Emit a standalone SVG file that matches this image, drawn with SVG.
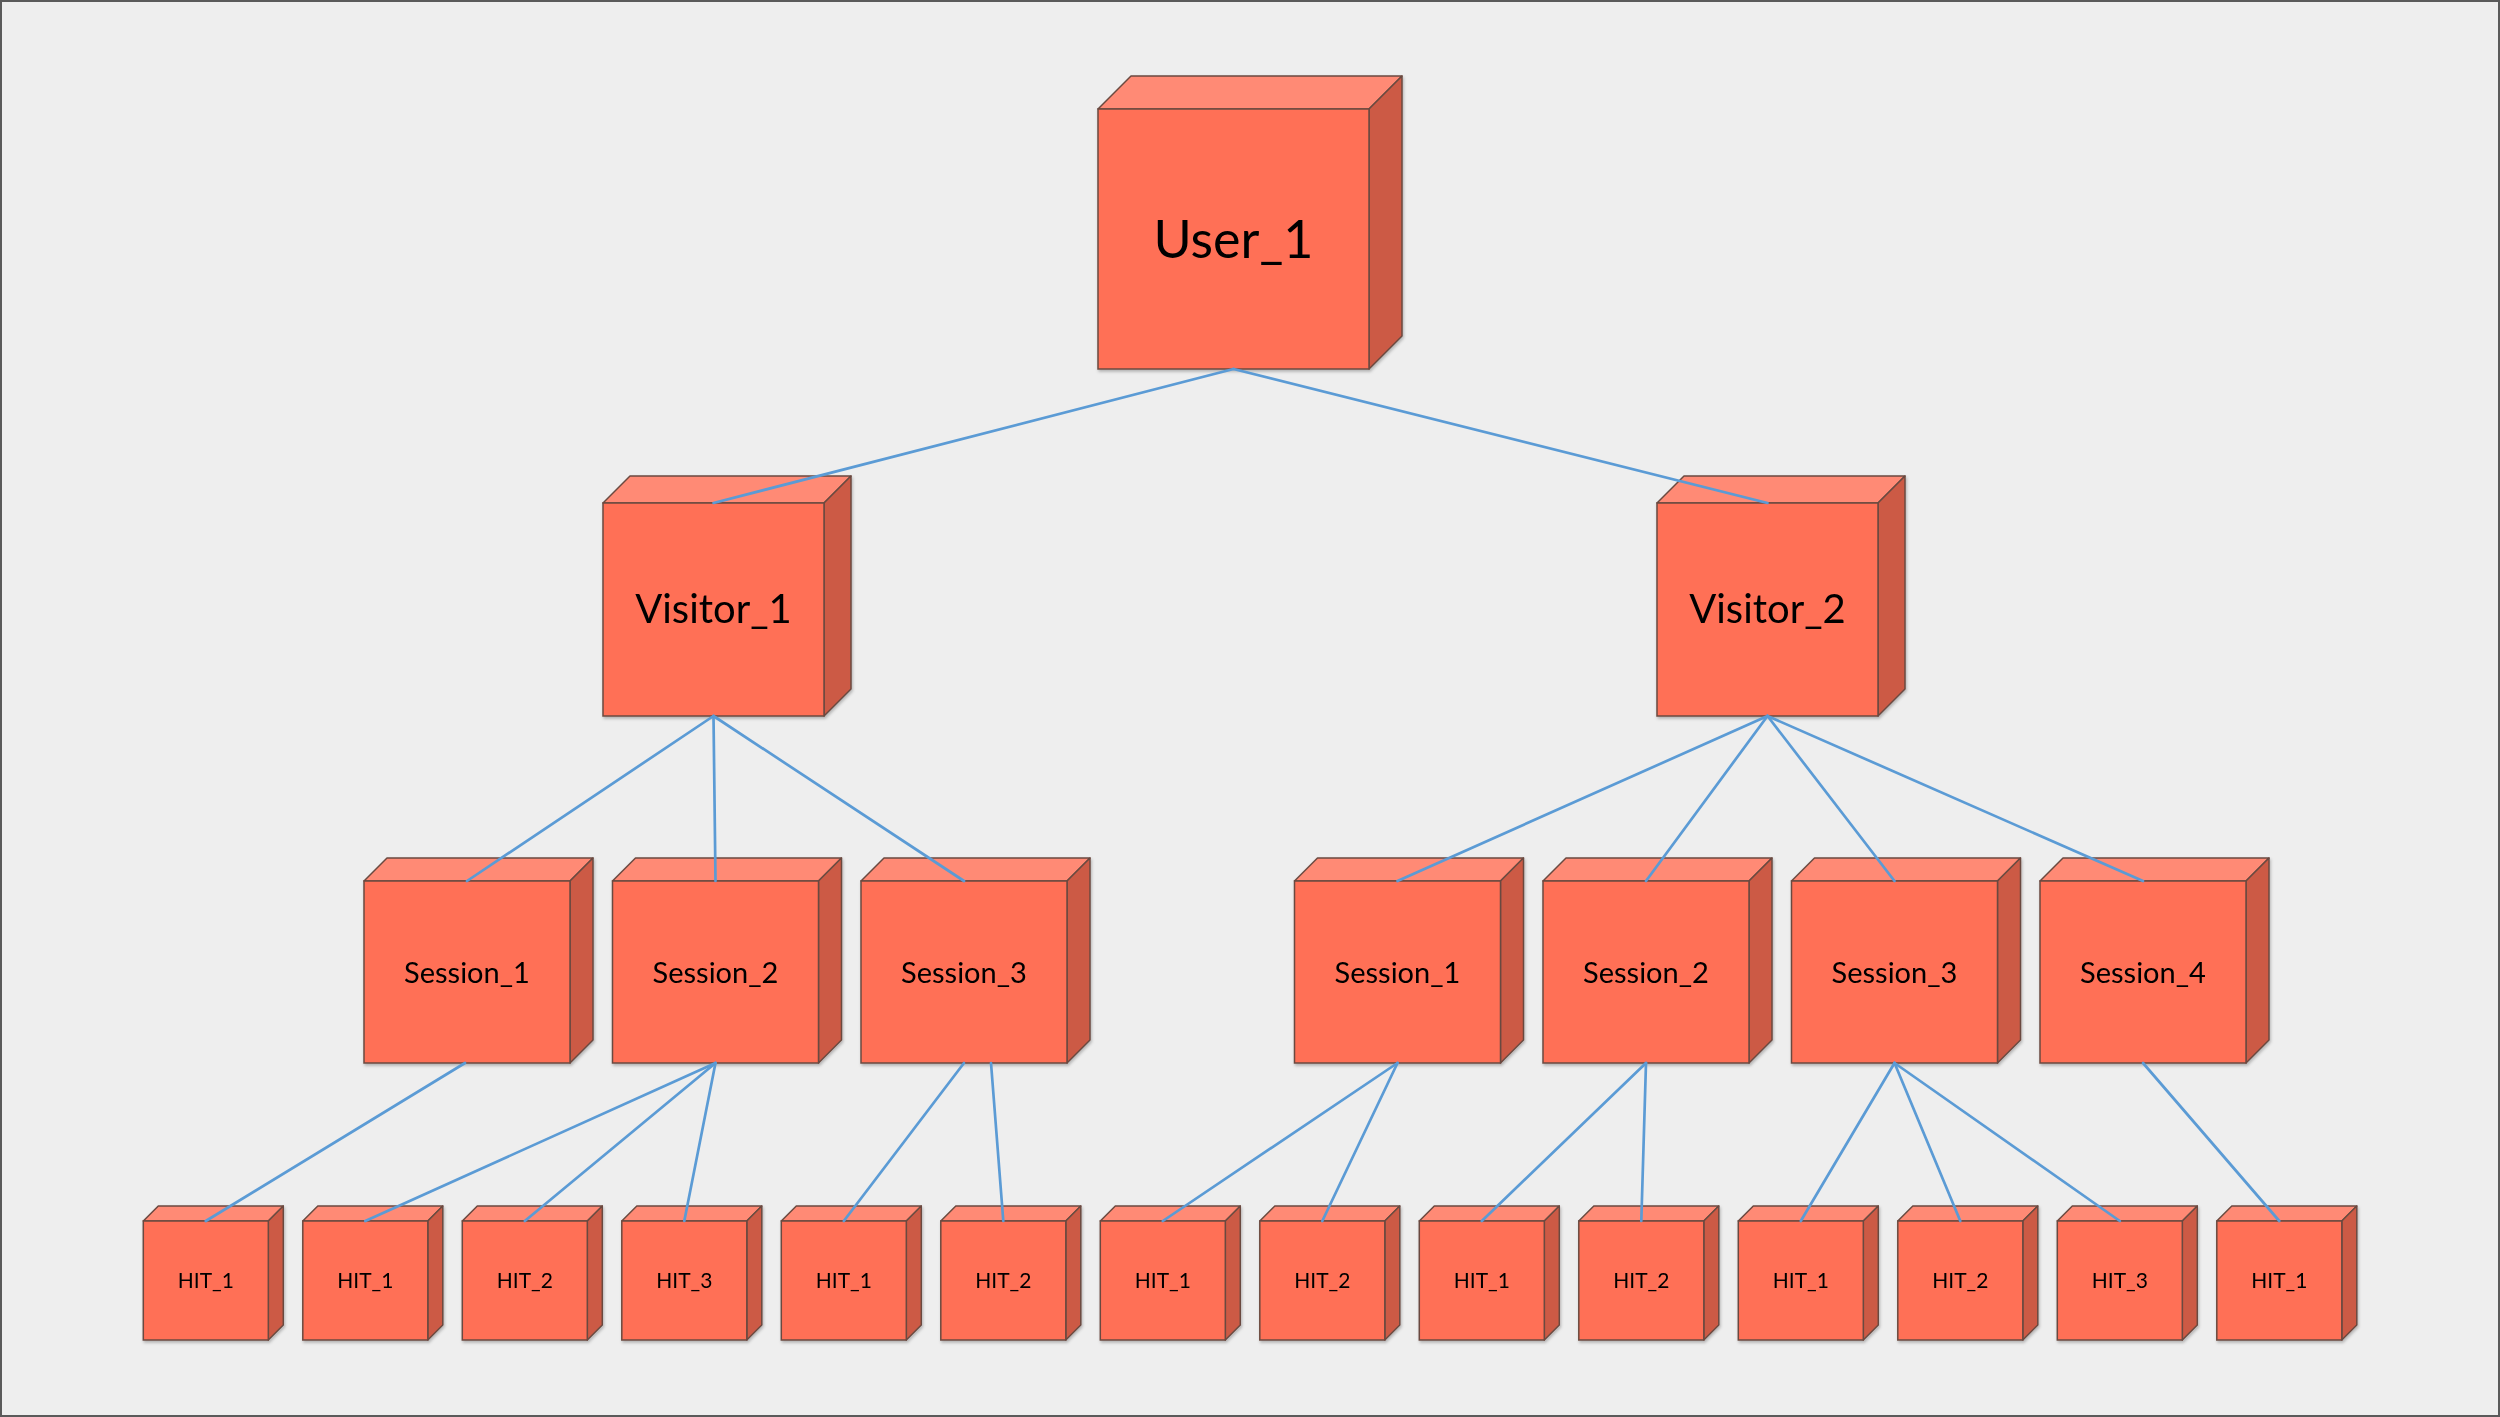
<svg xmlns="http://www.w3.org/2000/svg" width="2500" height="1417" viewBox="0 0 2500 1417">
<defs>
<style>
.front{fill:#FF6F56;stroke:#6B4A40;stroke-width:1.5}
.top{fill:#FF8A74;stroke:#6B4A40;stroke-width:1.5;stroke-linejoin:round}
.side{fill:#CC5A45;stroke:#6B4A40;stroke-width:1.5;stroke-linejoin:round}
.lbl{font-family:Lato,"Liberation Sans",sans-serif;fill:#000;text-anchor:middle}
.conn line{stroke:#5B9BD5;stroke-width:2.7;stroke-linecap:round}
</style>
<filter id="sh" x="-10%" y="-10%" width="120%" height="120%">
<feDropShadow dx="1" dy="2" stdDeviation="1.5" flood-color="#000" flood-opacity="0.25"/>
</filter>
</defs>
<rect x="1" y="1" width="2498" height="1415" fill="#EEEEEE" stroke="#5A5A5A" stroke-width="2"/>

<g id="user_1" filter="url(#sh)">
<polygon class="top" points="1098,109 1131,76 1402,76 1369,109"/>
<polygon class="side" points="1369,109 1402,76 1402,336 1369,369"/>
<rect class="front" x="1098" y="109" width="271" height="260"/>
<text class="lbl" x="1233.5" y="258" font-size="52">User_1</text>
</g>

<g id="visitor_1" filter="url(#sh)">
<polygon class="top" points="603,503 630,476 851,476 824,503"/>
<polygon class="side" points="824,503 851,476 851,689 824,716"/>
<rect class="front" x="603" y="503" width="221" height="213"/>
<text class="lbl" x="713.5" y="623" font-size="40">Visitor_1</text>
</g>

<g id="visitor_2" filter="url(#sh)">
<polygon class="top" points="1657,503 1684,476 1905,476 1878,503"/>
<polygon class="side" points="1878,503 1905,476 1905,689 1878,716"/>
<rect class="front" x="1657" y="503" width="221" height="213"/>
<text class="lbl" x="1767.5" y="623" font-size="40">Visitor_2</text>
</g>

<g id="v1_session_1" filter="url(#sh)">
<polygon class="top" points="364,881 387,858 593,858 570,881"/>
<polygon class="side" points="570,881 593,858 593,1040 570,1063"/>
<rect class="front" x="364" y="881" width="206" height="182"/>
<text class="lbl" x="467" y="983" font-size="29">Session_1</text>
</g>
<g id="v1_session_2" filter="url(#sh)">
<polygon class="top" points="612.5,881 635.5,858 841.5,858 818.5,881"/>
<polygon class="side" points="818.5,881 841.5,858 841.5,1040 818.5,1063"/>
<rect class="front" x="612.5" y="881" width="206" height="182"/>
<text class="lbl" x="715.5" y="983" font-size="29">Session_2</text>
</g>
<g id="v1_session_3" filter="url(#sh)">
<polygon class="top" points="861,881 884,858 1090,858 1067,881"/>
<polygon class="side" points="1067,881 1090,858 1090,1040 1067,1063"/>
<rect class="front" x="861" y="881" width="206" height="182"/>
<text class="lbl" x="964" y="983" font-size="29">Session_3</text>
</g>
<g id="v2_session_1" filter="url(#sh)">
<polygon class="top" points="1294.5,881 1317.5,858 1523.5,858 1500.5,881"/>
<polygon class="side" points="1500.5,881 1523.5,858 1523.5,1040 1500.5,1063"/>
<rect class="front" x="1294.5" y="881" width="206" height="182"/>
<text class="lbl" x="1397.5" y="983" font-size="29">Session_1</text>
</g>
<g id="v2_session_2" filter="url(#sh)">
<polygon class="top" points="1543,881 1566,858 1772,858 1749,881"/>
<polygon class="side" points="1749,881 1772,858 1772,1040 1749,1063"/>
<rect class="front" x="1543" y="881" width="206" height="182"/>
<text class="lbl" x="1646" y="983" font-size="29">Session_2</text>
</g>
<g id="v2_session_3" filter="url(#sh)">
<polygon class="top" points="1791.5,881 1814.5,858 2020.5,858 1997.5,881"/>
<polygon class="side" points="1997.5,881 2020.5,858 2020.5,1040 1997.5,1063"/>
<rect class="front" x="1791.5" y="881" width="206" height="182"/>
<text class="lbl" x="1894.5" y="983" font-size="29">Session_3</text>
</g>
<g id="v2_session_4" filter="url(#sh)">
<polygon class="top" points="2040,881 2063,858 2269,858 2246,881"/>
<polygon class="side" points="2246,881 2269,858 2269,1040 2246,1063"/>
<rect class="front" x="2040" y="881" width="206" height="182"/>
<text class="lbl" x="2143" y="983" font-size="29">Session_4</text>
</g>

<g id="hit_0" filter="url(#sh)">
<polygon class="top" points="143.3,1221 158.3,1206 283.3,1206 268.3,1221"/>
<polygon class="side" points="268.3,1221 283.3,1206 283.3,1325 268.3,1340"/>
<rect class="front" x="143.3" y="1221" width="125" height="119"/>
<text class="lbl" x="205.8" y="1288" font-size="21">HIT_1</text>
</g>
<g id="hit_1" filter="url(#sh)">
<polygon class="top" points="302.8,1221 317.8,1206 442.8,1206 427.8,1221"/>
<polygon class="side" points="427.8,1221 442.8,1206 442.8,1325 427.8,1340"/>
<rect class="front" x="302.8" y="1221" width="125" height="119"/>
<text class="lbl" x="365.3" y="1288" font-size="21">HIT_1</text>
</g>
<g id="hit_2" filter="url(#sh)">
<polygon class="top" points="462.3,1221 477.3,1206 602.3,1206 587.3,1221"/>
<polygon class="side" points="587.3,1221 602.3,1206 602.3,1325 587.3,1340"/>
<rect class="front" x="462.3" y="1221" width="125" height="119"/>
<text class="lbl" x="524.8" y="1288" font-size="21">HIT_2</text>
</g>
<g id="hit_3" filter="url(#sh)">
<polygon class="top" points="621.8,1221 636.8,1206 761.8,1206 746.8,1221"/>
<polygon class="side" points="746.8,1221 761.8,1206 761.8,1325 746.8,1340"/>
<rect class="front" x="621.8" y="1221" width="125" height="119"/>
<text class="lbl" x="684.3" y="1288" font-size="21">HIT_3</text>
</g>
<g id="hit_4" filter="url(#sh)">
<polygon class="top" points="781.3,1221 796.3,1206 921.3,1206 906.3,1221"/>
<polygon class="side" points="906.3,1221 921.3,1206 921.3,1325 906.3,1340"/>
<rect class="front" x="781.3" y="1221" width="125" height="119"/>
<text class="lbl" x="843.8" y="1288" font-size="21">HIT_1</text>
</g>
<g id="hit_5" filter="url(#sh)">
<polygon class="top" points="940.8,1221 955.8,1206 1080.8,1206 1065.8,1221"/>
<polygon class="side" points="1065.8,1221 1080.8,1206 1080.8,1325 1065.8,1340"/>
<rect class="front" x="940.8" y="1221" width="125" height="119"/>
<text class="lbl" x="1003.3" y="1288" font-size="21">HIT_2</text>
</g>
<g id="hit_6" filter="url(#sh)">
<polygon class="top" points="1100.3,1221 1115.3,1206 1240.3,1206 1225.3,1221"/>
<polygon class="side" points="1225.3,1221 1240.3,1206 1240.3,1325 1225.3,1340"/>
<rect class="front" x="1100.3" y="1221" width="125" height="119"/>
<text class="lbl" x="1162.8" y="1288" font-size="21">HIT_1</text>
</g>
<g id="hit_7" filter="url(#sh)">
<polygon class="top" points="1259.8,1221 1274.8,1206 1399.8,1206 1384.8,1221"/>
<polygon class="side" points="1384.8,1221 1399.8,1206 1399.8,1325 1384.8,1340"/>
<rect class="front" x="1259.8" y="1221" width="125" height="119"/>
<text class="lbl" x="1322.3" y="1288" font-size="21">HIT_2</text>
</g>
<g id="hit_8" filter="url(#sh)">
<polygon class="top" points="1419.3,1221 1434.3,1206 1559.3,1206 1544.3,1221"/>
<polygon class="side" points="1544.3,1221 1559.3,1206 1559.3,1325 1544.3,1340"/>
<rect class="front" x="1419.3" y="1221" width="125" height="119"/>
<text class="lbl" x="1481.8" y="1288" font-size="21">HIT_1</text>
</g>
<g id="hit_9" filter="url(#sh)">
<polygon class="top" points="1578.8,1221 1593.8,1206 1718.8,1206 1703.8,1221"/>
<polygon class="side" points="1703.8,1221 1718.8,1206 1718.8,1325 1703.8,1340"/>
<rect class="front" x="1578.8" y="1221" width="125" height="119"/>
<text class="lbl" x="1641.3" y="1288" font-size="21">HIT_2</text>
</g>
<g id="hit_10" filter="url(#sh)">
<polygon class="top" points="1738.3,1221 1753.3,1206 1878.3,1206 1863.3,1221"/>
<polygon class="side" points="1863.3,1221 1878.3,1206 1878.3,1325 1863.3,1340"/>
<rect class="front" x="1738.3" y="1221" width="125" height="119"/>
<text class="lbl" x="1800.8" y="1288" font-size="21">HIT_1</text>
</g>
<g id="hit_11" filter="url(#sh)">
<polygon class="top" points="1897.8,1221 1912.8,1206 2037.8,1206 2022.8,1221"/>
<polygon class="side" points="2022.8,1221 2037.8,1206 2037.8,1325 2022.8,1340"/>
<rect class="front" x="1897.8" y="1221" width="125" height="119"/>
<text class="lbl" x="1960.3" y="1288" font-size="21">HIT_2</text>
</g>
<g id="hit_12" filter="url(#sh)">
<polygon class="top" points="2057.3,1221 2072.3,1206 2197.3,1206 2182.3,1221"/>
<polygon class="side" points="2182.3,1221 2197.3,1206 2197.3,1325 2182.3,1340"/>
<rect class="front" x="2057.3" y="1221" width="125" height="119"/>
<text class="lbl" x="2119.8" y="1288" font-size="21">HIT_3</text>
</g>
<g id="hit_13" filter="url(#sh)">
<polygon class="top" points="2216.8,1221 2231.8,1206 2356.8,1206 2341.8,1221"/>
<polygon class="side" points="2341.8,1221 2356.8,1206 2356.8,1325 2341.8,1340"/>
<rect class="front" x="2216.8" y="1221" width="125" height="119"/>
<text class="lbl" x="2279.3" y="1288" font-size="21">HIT_1</text>
</g>

<g id="connectors" class="conn">
<line x1="1233.5" y1="369" x2="713.5" y2="503"/>
<line x1="1233.5" y1="369" x2="1767.5" y2="503"/>
<line x1="713.5" y1="716" x2="467" y2="881"/>
<line x1="713.5" y1="716" x2="715.5" y2="881"/>
<line x1="713.5" y1="716" x2="964" y2="881"/>
<line x1="1767.5" y1="716" x2="1397.5" y2="881"/>
<line x1="1767.5" y1="716" x2="1646" y2="881"/>
<line x1="1767.5" y1="716" x2="1894.5" y2="881"/>
<line x1="1767.5" y1="716" x2="2143" y2="881"/>
<line x1="465" y1="1063" x2="205.8" y2="1221"/>
<line x1="715.5" y1="1063" x2="365.3" y2="1221"/>
<line x1="715.5" y1="1063" x2="524.8" y2="1221"/>
<line x1="715.5" y1="1063" x2="684.3" y2="1221"/>
<line x1="964" y1="1063" x2="843.8" y2="1221"/>
<line x1="991" y1="1063" x2="1003.3" y2="1221"/>
<line x1="1397.5" y1="1063" x2="1162.8" y2="1221"/>
<line x1="1397.5" y1="1063" x2="1322.3" y2="1221"/>
<line x1="1646" y1="1063" x2="1481.8" y2="1221"/>
<line x1="1646" y1="1063" x2="1641.3" y2="1221"/>
<line x1="1894.5" y1="1063" x2="1800.8" y2="1221"/>
<line x1="1894.5" y1="1063" x2="1960.3" y2="1221"/>
<line x1="1894.5" y1="1063" x2="2119.8" y2="1221"/>
<line x1="2143" y1="1063" x2="2279.3" y2="1221"/>
</g>
</svg>
